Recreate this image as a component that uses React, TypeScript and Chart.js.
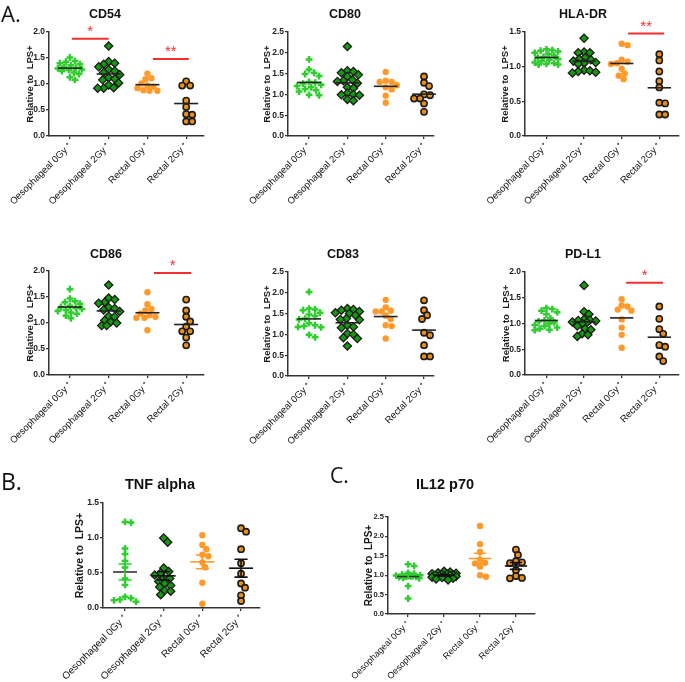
import React, { useEffect, useRef } from "react";
import { Chart, registerables } from "chart.js";
Chart.register(...registerables);

const GROUPS = ["Oesophageal 0Gy \u207A", "Oesophageal 2Gy \u207A", "Rectal 0Gy \u207A", "Rectal 2Gy \u207A"];
const Y_TITLE = "Relative to  LPS+";

// ---- CD54 ----
const cd54_oes0 = [1.51, 1.44, 1.43, 1.40, 1.38, 1.36, 1.33, 1.31, 1.30, 1.28, 1.27, 1.25, 1.22, 1.19, 1.13, 1.08];
const cd54_oes2 = [1.73, 1.43, 1.40, 1.38, 1.33, 1.28, 1.25, 1.22, 1.18, 1.12, 1.10, 1.08, 1.02, 0.98, 0.93, 0.92, 0.92];
const cd54_rec0 = [1.20, 1.11, 1.09, 1.01, 0.97, 0.95, 0.92, 0.88, 0.87, 0.87];
const cd54_rec2 = [1.05, 0.97, 0.97, 0.68, 0.56, 0.42, 0.41, 0.28, 0.28];
const cd54_sig: [number, number, number, string][] = [[0.05, 1.0, 1.87, "*"], [2.14, 3.07, 1.48, "**"]];

// ---- CD80 ----
const cd80_oes0 = [1.84, 1.60, 1.52, 1.49, 1.44, 1.30, 1.28, 1.26, 1.23, 1.20, 1.17, 1.13, 1.10, 1.07, 0.99, 0.98];
const cd80_oes2 = [2.15, 1.57, 1.55, 1.52, 1.47, 1.43, 1.35, 1.33, 1.31, 1.27, 1.17, 1.15, 1.03, 1.00, 0.99, 0.98, 0.88, 0.85];
const cd80_rec0 = [1.54, 1.33, 1.30, 1.30, 1.22, 1.17, 1.12, 0.97, 0.80];
const cd80_rec2 = [1.43, 1.28, 1.20, 1.00, 0.98, 0.90, 0.90, 0.78, 0.58];

// ---- HLA-DR ----
const hla_oes0 = [1.25, 1.24, 1.23, 1.22, 1.20, 1.18, 1.16, 1.14, 1.13, 1.11, 1.10, 1.08, 1.06, 1.05, 1.04, 1.03, 1.03];
const hla_oes2 = [1.41, 1.21, 1.20, 1.20, 1.13, 1.11, 1.10, 1.08, 1.06, 1.05, 1.04, 0.95, 0.94, 0.93, 0.92, 0.91];
const hla_rec0 = [1.33, 1.31, 1.10, 1.07, 1.05, 1.04, 0.97, 0.90, 0.87, 0.82];
const hla_rec2 = [1.18, 1.09, 0.93, 0.79, 0.70, 0.48, 0.47, 0.31, 0.31];
const hla_sig: [number, number, number, string][] = [[2.17, 3.13, 1.48, "**"]];

// ---- CD86 ----
const cd86_oes0 = [1.65, 1.47, 1.42, 1.40, 1.37, 1.33, 1.31, 1.29, 1.27, 1.25, 1.23, 1.20, 1.18, 1.14, 1.09];
const cd86_oes2 = [1.73, 1.48, 1.45, 1.40, 1.38, 1.30, 1.28, 1.25, 1.22, 1.13, 1.12, 1.05, 1.02, 1.00, 0.95, 0.95];
const cd86_rec0 = [1.59, 1.36, 1.27, 1.24, 1.18, 1.15, 1.12, 1.10, 1.10, 0.86];
const cd86_rec2 = [1.45, 1.24, 1.12, 1.03, 0.93, 0.84, 0.84, 0.72, 0.57];
const cd86_sig: [number, number, number, string][] = [[2.17, 3.13, 1.96, "*"]];

// ---- CD83 ----
const cd83_oes0 = [2.02, 1.62, 1.60, 1.58, 1.52, 1.48, 1.44, 1.38, 1.36, 1.27, 1.22, 1.20, 1.18, 1.17, 0.99, 0.93];
const cd83_oes2 = [1.62, 1.60, 1.58, 1.55, 1.52, 1.50, 1.46, 1.38, 1.36, 1.35, 1.22, 1.18, 1.16, 1.02, 1.00, 0.92, 0.90, 0.72];
const cd83_rec0 = [1.83, 1.65, 1.57, 1.55, 1.55, 1.45, 1.37, 1.22, 1.20, 0.90];
const cd83_rec2 = [1.82, 1.58, 1.46, 1.37, 1.04, 0.98, 0.74, 0.47, 0.47];

// ---- PD-L1 ----
const pdl1_oes0 = [1.30, 1.28, 1.25, 1.22, 1.18, 1.10, 1.06, 1.04, 1.02, 1.00, 0.97, 0.95, 0.92, 0.90, 0.88, 0.87];
const pdl1_oes2 = [1.74, 1.23, 1.18, 1.08, 1.07, 1.06, 1.05, 1.03, 1.02, 1.00, 0.95, 0.90, 0.88, 0.80, 0.78, 0.75];
const pdl1_rec0 = [1.47, 1.35, 1.33, 1.27, 1.25, 1.08, 0.92, 0.78, 0.53];
const pdl1_rec2 = [1.33, 1.09, 0.89, 0.80, 0.58, 0.55, 0.36, 0.27];
const pdl1_sig: [number, number, number, string][] = [[2.12, 3.10, 1.79, "*"]];

// ---- TNF alpha ----
const tnf_oes0 = [1.23, 1.22, 0.85, 0.77, 0.67, 0.58, 0.42, 0.33, 0.16, 0.14, 0.12, 0.11, 0.09];
const tnf_oes2 = [1.00, 0.94, 0.57, 0.52, 0.50, 0.47, 0.43, 0.42, 0.38, 0.35, 0.32, 0.30, 0.25, 0.24, 0.19];
const tnf_rec0 = [1.04, 0.90, 0.84, 0.76, 0.74, 0.65, 0.58, 0.36, 0.06];
const tnf_rec2 = [1.14, 1.09, 0.84, 0.64, 0.49, 0.35, 0.29, 0.18, 0.10];

// ---- IL12 p70 ----
const il12_oes0 = [1.28, 1.24, 1.06, 1.04, 1.02, 1.00, 0.99, 0.98, 0.97, 0.96, 0.95, 0.93, 0.92, 0.72, 0.40];
const il12_oes2 = [1.10, 1.08, 1.06, 1.05, 1.04, 1.03, 1.02, 1.01, 1.00, 0.99, 0.98, 0.97, 0.96, 0.95, 0.94, 0.92, 0.90, 0.88];
const il12_rec0 = [2.27, 1.80, 1.60, 1.40, 1.32, 1.30, 1.22, 1.00, 0.96];
const il12_rec2 = [1.66, 1.52, 1.36, 1.33, 1.31, 1.13, 0.98, 0.93, 0.92];

const FONT = "'Liberation Sans', Arial, sans-serif";
const GREEN = "#30cc30";
const DGREEN = "#129a12";
const ORANGE = "#ff9a2a";
const ORANGE2 = "#e98f1c";
const DARK = "#1e1a16";
const RED = "#f03030";

const STYLES: any[] = [
  { pointStyle: "cross", pointRadius: 3.4, pointBorderWidth: 2.5, pointBorderColor: GREEN, pointBackgroundColor: GREEN },
  { pointStyle: "rectRot", pointRadius: 4.1, pointBorderWidth: 1.3, pointBorderColor: DARK, pointBackgroundColor: DGREEN },
  { pointStyle: "circle", pointRadius: 3.2, pointBorderWidth: 0, pointBorderColor: ORANGE, pointBackgroundColor: ORANGE },
  { pointStyle: "circle", pointRadius: 3.1, pointBorderWidth: 1.6, pointBorderColor: DARK, pointBackgroundColor: ORANGE2 },
];
const MEAN_COLORS_SEM = ["#333333", "#111111", ORANGE, "#111111"];
const WHISK_COLORS_SEM = [GREEN, "#111111", ORANGE, "#111111"];

interface Panel {
  title: string;
  data: number[][];
  ymax: number;
  sem: boolean;
  sig: [number, number, number, string][];
  cl: number; ct: number; cw: number; ch: number;
  pl: number; pt: number; pr: number; pb: number;
  xmin: number; xmax: number;
  titleX: number; titleY: number; yTitleX: number;
  fTitle: number; fTick: number; fLabel: number; fYTitle: number;
}

const row = (over: Partial<Panel>): Panel => ({
  title: "", data: [], ymax: 2, sem: false, sig: [],
  cl: 0, ct: 0, cw: 216, ch: 215,
  pl: 49, pt: 32, pr: 204, pb: 136,
  xmin: -0.54, xmax: 3.46,
  titleX: 105, titleY: 15, yTitleX: 30,
  fTitle: 12.5, fTick: 8.5, fLabel: 9.5, fYTitle: 9.5,
  ...over,
});

const PANELS: Panel[] = [
  row({ title: "CD54", data: [cd54_oes0, cd54_oes2, cd54_rec0, cd54_rec2], ymax: 2.0, sig: cd54_sig }),
  row({ title: "CD80", data: [cd80_oes0, cd80_oes2, cd80_rec0, cd80_rec2], ymax: 2.5,
    cl: 230, pl: 288, pr: 434, xmin: -0.55, xmax: 3.26, titleX: 345, yTitleX: 267 }),
  row({ title: "HLA-DR", data: [hla_oes0, hla_oes2, hla_rec0, hla_rec2], ymax: 1.5, sig: hla_sig,
    cl: 455, cw: 230, pl: 525, pr: 683, xmin: -0.57, xmax: 3.51, titleX: 583, yTitleX: 505 }),
  row({ title: "CD86", data: [cd86_oes0, cd86_oes2, cd86_rec0, cd86_rec2], ymax: 2.0, sig: cd86_sig,
    ct: 240, pt: 271, pb: 375, titleX: 106, titleY: 255 }),
  row({ title: "CD83", data: [cd83_oes0, cd83_oes2, cd83_rec0, cd83_rec2], ymax: 2.5,
    ct: 240, pt: 272, pb: 376, cl: 230, pl: 288, pr: 434, xmin: -0.55, xmax: 3.26, titleX: 343, titleY: 255, yTitleX: 267 }),
  row({ title: "PD-L1", data: [pdl1_oes0, pdl1_oes2, pdl1_rec0, pdl1_rec2], ymax: 2.0, sig: pdl1_sig,
    ct: 240, pt: 272, pb: 375, cl: 455, cw: 230, pl: 525, pr: 683, xmin: -0.57, xmax: 3.51, titleX: 583, titleY: 255, yTitleX: 506 }),
  row({ title: "TNF alpha", data: [tnf_oes0, tnf_oes2, tnf_rec0, tnf_rec2], ymax: 1.5, sem: true,
    cl: 0, ct: 460, cw: 275, ch: 222, pl: 103, pt: 503, pr: 260, pb: 608, xmin: -0.57, xmax: 3.49,
    titleX: 160, titleY: 485, yTitleX: 80, fTitle: 14.5, fTick: 8.5, fLabel: 10, fYTitle: 10.5 }),
  row({ title: "IL12 p70", data: [il12_oes0, il12_oes2, il12_rec0, il12_rec2], ymax: 2.5, sem: true,
    cl: 320, ct: 460, cw: 225, ch: 222, pl: 388, pt: 517, pr: 535, pb: 614, xmin: -0.56, xmax: 3.53,
    titleX: 445, titleY: 485, yTitleX: 369, fTitle: 14.5, fTick: 7.5, fLabel: 9, fYTitle: 10 }),
];

// beeswarm layout in pixel space (returns horizontal pixel offsets)
function swarm(values: number[], pyu: number, D: number, maxW: number): number[] {
  const order = values.map((_, i) => i).sort((a, b) => values[b] - values[a]);
  const placed: { x: number; y: number }[] = [];
  const offs = new Array(values.length).fill(0);
  for (const i of order) {
    const y = values[i] * pyu;
    let bestX = 0, bestD = -1;
    for (let k = 0; k <= maxW * 2; k++) {
      const c = (k % 2 === 1 ? 1 : -1) * Math.ceil(k / 2);
      let md = Infinity;
      for (const p of placed) md = Math.min(md, Math.hypot(c - p.x, y - p.y));
      if (md >= D) { bestX = c; break; }
      if (md > bestD) { bestD = md; bestX = c; }
    }
    offs[i] = bestX;
    placed.push({ x: bestX, y });
  }
  return offs;
}

function stats(v: number[]) {
  const n = v.length;
  const m = v.reduce((a, b) => a + b, 0) / n;
  const sd = Math.sqrt(v.reduce((a, b) => a + (b - m) * (b - m), 0) / (n - 1));
  return { m, sem: sd / Math.sqrt(n) };
}

function PanelChart({ p }: { p: Panel }) {
  const ref = useRef<HTMLCanvasElement>(null);
  useEffect(() => {
    const canvas = ref.current!;
    const pyu = (p.pb - p.pt) / p.ymax;
    const ppc = (p.pr - p.pl) / (p.xmax - p.xmin);
    const datasets = p.data.map((vals, g) => {
      const offs = swarm(vals, pyu, 5.6, 12);
      return {
        data: vals.map((v, i) => ({ x: g + offs[i] / ppc, y: v })),
        showLine: false,
        ...STYLES[g],
      };
    });
    const overlay = {
      id: "overlay",
      afterDatasetsDraw(chart: any) {
        const { ctx } = chart;
        const x = chart.scales.x, y = chart.scales.y;
        const cat = x.getPixelForValue(1) - x.getPixelForValue(0);
        ctx.save();
        p.data.forEach((vals, g) => {
          const { m, sem } = stats(vals);
          const xc = x.getPixelForValue(g);
          const ym = y.getPixelForValue(m);
          const hw = 0.31 * cat;
          ctx.lineWidth = 1.6;
          ctx.strokeStyle = p.sem ? MEAN_COLORS_SEM[g] : "#222";
          ctx.beginPath();
          ctx.moveTo(xc - hw, ym);
          ctx.lineTo(xc + hw, ym);
          ctx.stroke();
          if (p.sem) {
            const y1 = y.getPixelForValue(m + sem), y2 = y.getPixelForValue(m - sem);
            const cw = 0.17 * cat;
            ctx.strokeStyle = WHISK_COLORS_SEM[g];
            ctx.beginPath();
            ctx.moveTo(xc, y1); ctx.lineTo(xc, y2);
            ctx.moveTo(xc - cw, y1); ctx.lineTo(xc + cw, y1);
            ctx.moveTo(xc - cw, y2); ctx.lineTo(xc + cw, y2);
            ctx.stroke();
          }
        });
        p.sig.forEach(([a, b, v, lab]) => {
          const ys = y.getPixelForValue(v);
          ctx.strokeStyle = RED;
          ctx.lineWidth = 2;
          ctx.beginPath();
          ctx.moveTo(x.getPixelForValue(a), ys);
          ctx.lineTo(x.getPixelForValue(b), ys);
          ctx.stroke();
          ctx.fillStyle = RED;
          ctx.font = `15px ${FONT}`;
          ctx.textAlign = "center";
          ctx.textBaseline = "middle";
          ctx.fillText(lab, (x.getPixelForValue(a) + x.getPixelForValue(b)) / 2, ys - 7);
        });
        ctx.fillStyle = "#111";
        ctx.font = `bold ${p.fTitle}px ${FONT}`;
        ctx.textAlign = "center";
        ctx.textBaseline = "middle";
        ctx.fillText(p.title, p.titleX - p.cl, p.titleY - p.ct);
        ctx.restore();
      },
    };
    const yLH = p.fYTitle * 1.2;
    const chart = new Chart(canvas, {
      type: "scatter",
      data: { datasets: datasets as any },
      options: {
        animation: false,
        responsive: false,
        devicePixelRatio: 1,
        layout: { padding: { top: p.pt - p.ct, right: p.cw - (p.pr - p.cl), left: 0, bottom: 0 } },
        plugins: { legend: { display: false }, tooltip: { enabled: false }, title: { display: false } },
        scales: {
          x: {
            type: "linear",
            min: p.xmin,
            max: p.xmax,
            afterBuildTicks: (s: any) => { s.ticks = [0, 1, 2, 3].map((v) => ({ value: v })); },
            afterFit: (s: any) => { s.height = p.ct + p.ch - p.pb; },
            ticks: {
              autoSkip: false,
              minRotation: 45,
              maxRotation: 45,
              padding: 2,
              color: "#111",
              font: { size: p.fLabel, family: FONT },
              callback: (v: any) => GROUPS[Math.round(Number(v))] ?? "",
            },
            grid: { display: true, drawOnChartArea: false, drawTicks: true, tickLength: 3, color: "#333", lineWidth: 1.3 },
            border: { display: true, color: "#333", width: 1.5 },
          },
          y: {
            type: "linear",
            min: 0,
            max: p.ymax,
            afterFit: (s: any) => { s.width = p.pl - p.cl; },
            ticks: {
              stepSize: 0.5,
              padding: 1,
              color: "#1a1a1a",
              font: { size: p.fTick, family: FONT, weight: "bold" },
              callback: (v: any) => Number(v).toFixed(1),
            },
            grid: { display: true, drawOnChartArea: false, drawTicks: true, tickLength: 3, color: "#333", lineWidth: 1.3 },
            border: { display: true, color: "#333", width: 1.5 },
            title: {
              display: true,
              text: Y_TITLE,
              color: "#1a1a1a",
              font: { size: p.fYTitle, family: FONT, weight: "bold" },
              padding: { top: p.yTitleX - p.cl - yLH / 2, bottom: 0 },
            },
          },
        },
      } as any,
      plugins: [overlay],
    });
    return () => chart.destroy();
  }, [p]);
  return (
    <canvas
      ref={ref}
      width={p.cw}
      height={p.ch}
      style={{ position: "absolute", left: p.cl, top: p.ct, width: p.cw, height: p.ch }}
    />
  );
}

const letterStyle = (left: number, top: number, size: number): React.CSSProperties => ({
  position: "absolute",
  left,
  top,
  fontFamily: "'Open Sans', 'Liberation Sans', sans-serif",
  fontSize: size,
  lineHeight: `${size}px`,
  color: "#111",
});

export default function App() {
  return (
    <div style={{ position: "absolute", left: 0, top: 0, width: 685, height: 682, background: "#fff", overflow: "hidden" }}>
      {PANELS.map((p, i) => (
        <PanelChart key={i} p={p} />
      ))}
      <div style={letterStyle(1, 2, 22)}>A.</div>
      <div style={letterStyle(1, 470, 23)}>B.</div>
      <div style={letterStyle(330, 465, 21)}>C.</div>
    </div>
  );
}
